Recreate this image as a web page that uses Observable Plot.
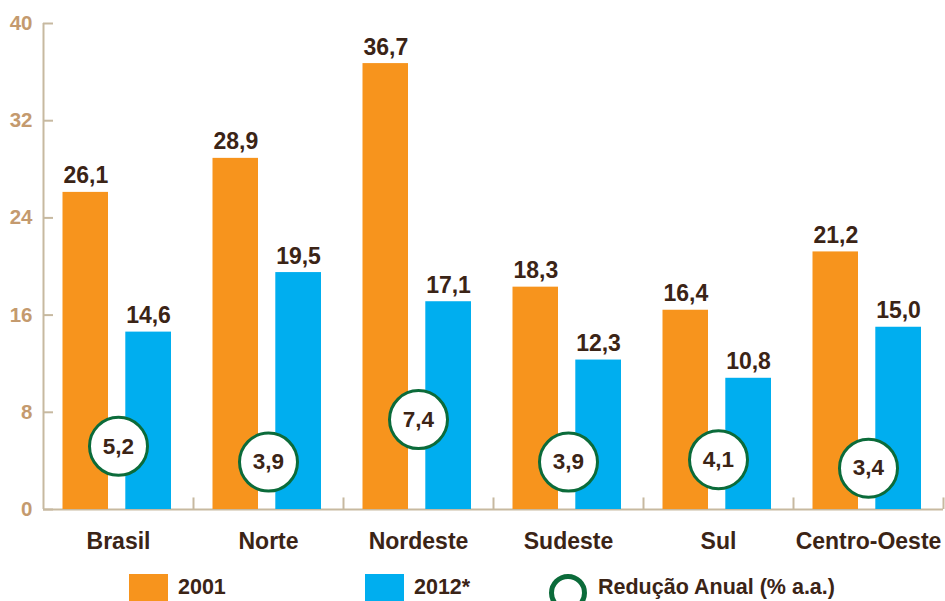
<!DOCTYPE html>
<html><head><meta charset="utf-8">
<script src="https://cdn.jsdelivr.net/npm/d3@7"></script>
<script src="https://cdn.jsdelivr.net/npm/@observablehq/plot@0.6"></script>
<style>
body{margin:0;background:#fff;width:945px;height:601px;overflow:hidden;position:relative;font-family:"Liberation Sans",Arial,sans-serif;}
#chart{position:absolute;left:0;top:0;}
#legend{position:absolute;top:574px;left:0;width:945px;height:45px;}
.sw{position:absolute;top:0;width:39px;height:39px;}
.ring{position:absolute;top:0;width:28px;height:28px;border:5px solid #0b6b3a;border-radius:50%;}
.lt{position:absolute;top:3px;font-weight:bold;font-size:21.5px;line-height:20px;color:#3b2416;white-space:nowrap;}
</style></head><body>
<div id="chart"></div>
<div id="legend"></div>
<script>
const regions = ["Brasil","Norte","Nordeste","Sudeste","Sul","Centro-Oeste"];
const values2001 = [26.1,28.9,36.7,18.3,16.4,21.2];
const values2012 = [14.6,19.5,17.1,12.3,10.8,15.0];
const reducao = [5.2,3.9,7.4,3.9,4.1,3.4];
const seriesNames = ["2001","2012*"];
const reducaoLabel = "Redução Anual (% a.a.)";
const yTicks = [0,8,16,24,32,40];

const colors = {"2001":"#f7941d","2012*":"#00aeef"};
const textColor = "#3b2416";
const axisColor = "#c7b9a0";
const tickLabelColor = "#c49a6e";
const green = "#0b6b3a";
const fmt = d => d.toFixed(1).replace(".", ",");

const W = 945, H = 565, ML = 43, MR = 2, MT = 23, MB = 56;
const step = (W - ML - MR) / regions.length;

const d2001 = regions.map((r,i)=>({region:r, value:values2001[i]}));
const d2012 = regions.map((r,i)=>({region:r, value:values2012[i]}));
const dRed = regions.map((r,i)=>({region:r, value:reducao[i]}));

const font = {fontFamily:"Liberation Sans, Arial, sans-serif", fontWeight:"bold"};

const chart = Plot.plot({
  width: W, height: H,
  marginLeft: ML, marginRight: MR, marginTop: MT, marginBottom: MB,
  style: {background:"#fff", overflow:"visible"},
  x: {domain: regions, padding: 0, axis: null},
  y: {domain: [0,40], axis: null},
  marks: [
    Plot.ruleY([0], {stroke: axisColor, strokeWidth: 2}),
    Plot.ruleX([regions[0]], {y1: 0, y2: 40, dx: -step/2, stroke: axisColor, strokeWidth: 2}),
    Plot.tickY(yTicks, {y: d=>d, x: ()=>regions[0], insetRight: step-10, stroke: axisColor, strokeWidth: 2}),
    Plot.ruleX(regions, {y1: 0, y2: 0.95, dx: step/2, stroke: axisColor, strokeWidth: 2}),
    Plot.axisY({ticks: yTicks, tickSize: 0, tickPadding: 11, fontSize: 20.5, ...font, fill: tickLabelColor, tickFormat: d=>String(d), label: null}),
    Plot.axisX({tickSize: 0, tickPadding: 23, fontSize: 23, ...font, fill: textColor, label: null}),
    Plot.barY(d2001, {x:"region", y:"value", fill: colors["2001"], insetLeft: 19.5, insetRight: step-65}),
    Plot.barY(d2012, {x:"region", y:"value", fill: colors["2012*"], insetLeft: 82.3, insetRight: 22}),
    Plot.text(d2001, {x:"region", y:"value", text: d=>fmt(d.value), dx: -32.7, dy: -9, lineAnchor:"bottom", fontSize: 23, ...font, fill: textColor, textAnchor:"middle"}),
    Plot.text(d2012, {x:"region", y:"value", text: d=>fmt(d.value), dx: 30, dy: -9, lineAnchor:"bottom", fontSize: 23, ...font, fill: textColor}),
    Plot.dot(dRed, {x:"region", y:"value", r: 29, fill:"#fff", stroke: green, strokeWidth: 3}),
    Plot.text(dRed, {x:"region", y:"value", text: d=>fmt(d.value), fontSize: 22.5, ...font, fill: textColor})
  ]
});
document.getElementById("chart").appendChild(chart);

const legend = document.getElementById("legend");
legend.innerHTML = `
  <div class="sw" style="left:129px;background:${colors["2001"]}"></div>
  <div class="lt" style="left:178px">${seriesNames[0]}</div>
  <div class="sw" style="left:365px;background:${colors["2012*"]}"></div>
  <div class="lt" style="left:414px">${seriesNames[1]}</div>
  <div class="ring" style="left:549px"></div>
  <div class="lt" style="left:598px">${reducaoLabel}</div>`;
</script>
</body></html>
